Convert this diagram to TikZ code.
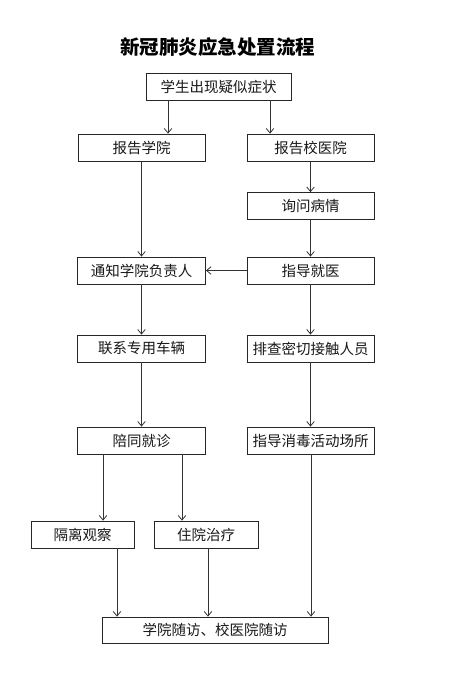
\documentclass[tikz,border=0pt]{standalone}
\usepackage{fontspec}
\newfontfamily\cjk{Noto Sans CJK SC}
\usetikzlibrary{arrows.meta}
\begin{document}
\begin{tikzpicture}[x=1pt,y=-1pt,
  box/.style={draw=black!85,line width=0.8pt,minimum height=27pt,inner sep=0pt,
    font=\cjk\fontsize{14.5}{16}\selectfont,text=black!90},
  arr/.style={draw=black!80,line width=0.8pt,-{Straight Barb[length=4.5pt,width=7.5pt]}}]
\useasboundingbox[fill=white] (0,0) rectangle (465,698);
\node[font=\cjk\bfseries\fontsize{19.5}{22}\selectfont] (title) at (217.5,47) {新冠肺炎应急处置流程};
\node[box,minimum width=145pt] (s) at (218.5,86.5) {学生出现疑似症状};
\node[box,minimum width=127pt] (r1) at (141.5,147.5) {报告学院};
\node[box,minimum width=127pt] (r2) at (310.5,147.5) {报告校医院};
\node[box,minimum width=127pt] (ask) at (310.5,206) {询问病情};
\node[box,minimum width=128pt] (notify) at (141.5,270.5) {通知学院负责人};
\node[box,minimum width=127pt] (guide) at (310.5,270.5) {指导就医};
\node[box,minimum width=128pt] (car) at (141.5,348.5) {联系专用车辆};
\node[box,minimum width=127pt] (check) at (310.5,348.5) {排查密切接触人员};
\node[box,minimum width=128pt] (acc) at (141.5,440.5) {陪同就诊};
\node[box,minimum width=127pt] (dis) at (310.5,440.5) {指导消毒活动场所};
\node[box,minimum width=103pt] (iso) at (82.5,534.5) {隔离观察};
\node[box,minimum width=104pt] (hos) at (206,534.5) {住院治疗};
\node[box,minimum width=226pt,minimum height=26pt] (fin) at (215,630) {学院随访、校医院随访};
\coordinate (xa) at (168,0);
\coordinate (xb) at (270,0);
\coordinate (xc) at (103,0);
\coordinate (xd) at (182,0);
\coordinate (xe) at (117,0);
\coordinate (xf) at (208,0);
\coordinate (xg) at (311,0);
\draw[arr] (s.south -| xa) -- (r1.north -| xa);
\draw[arr] (s.south -| xb) -- (r2.north -| xb);
\draw[arr] (r1) -- (notify);
\draw[arr] (r2) -- (ask);
\draw[arr] (ask) -- (guide);
\draw[arr] (guide) -- (notify);
\draw[arr] (notify) -- (car);
\draw[arr] (guide) -- (check);
\draw[arr] (car) -- (acc);
\draw[arr] (check) -- (dis);
\draw[arr] (acc.south -| xc) -- (iso.north -| xc);
\draw[arr] (acc.south -| xd) -- (hos.north -| xd);
\draw[arr] (iso.south -| xe) -- (fin.north -| xe);
\draw[arr] (hos.south -| xf) -- (fin.north -| xf);
\draw[arr] (dis.south -| xg) -- (fin.north -| xg);
\end{tikzpicture}
\end{document}
